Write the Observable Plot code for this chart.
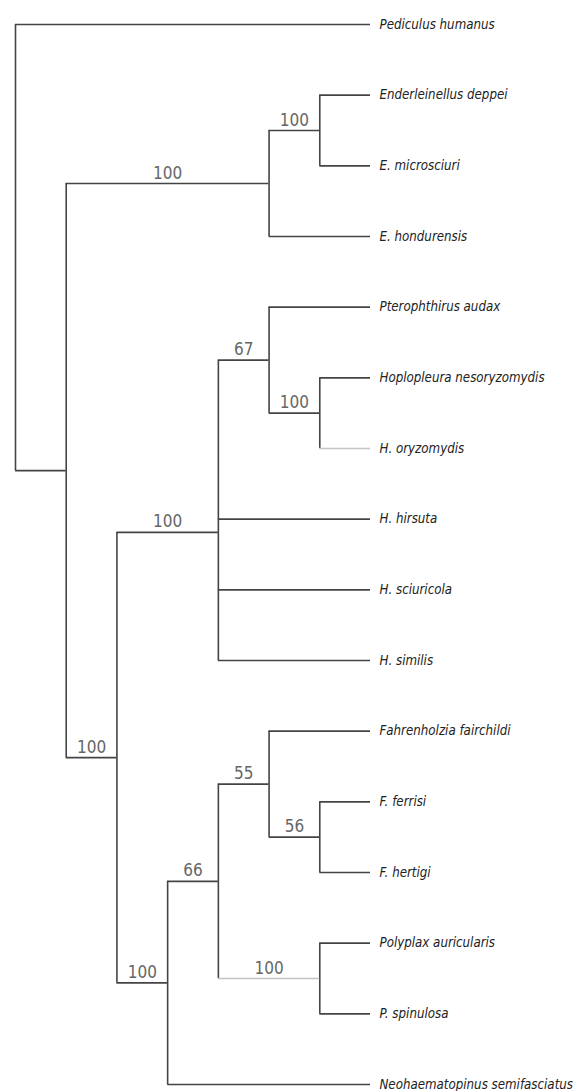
<!DOCTYPE html>
<html>
<head>
<meta charset="utf-8">
<script src="https://cdn.jsdelivr.net/npm/d3@7"></script>
<script src="https://cdn.jsdelivr.net/npm/@observablehq/plot@0.6"></script>
<style>
  html, body { margin: 0; padding: 0; background: #fff; }
  #chart svg { display: block; }
</style>
</head>
<body>
<div id="chart"></div>
<script>
// ---- Data ----
const leafNames = [
  "Pediculus humanus",
  "Enderleinellus deppei",
  "E. microsciuri",
  "E. hondurensis",
  "Pterophthirus audax",
  "Hoplopleura nesoryzomydis",
  "H. oryzomydis",
  "H. hirsuta",
  "H. sciuricola",
  "H. similis",
  "Fahrenholzia fairchildi",
  "F. ferrisi",
  "F. hertigi",
  "Polyplax auricularis",
  "P. spinulosa",
  "Neohaematopinus semifasciatus"
];
const leafParents = ["root","EnderIn","EnderIn","Ender","E","F","F","C","C","C","H","J","J","I","I","D"];

const cladeIds     = ["root","A","Ender","EnderIn","B","C","E","F","D","G","H","J","I"];
const cladeParents = [null,"root","A","Ender","A","B","C","E","B","D","G","H","G"];
const cladeSupport = [null,null,100,100,100,100,67,100,100,66,55,56,100];

// ---- Build tree ----
const rows = [
  ...cladeIds.map((id, i) => ({id, parent: cladeParents[i], support: cladeSupport[i], leaf: false, order: Infinity})),
  ...leafNames.map((name, i) => ({id: name, parent: leafParents[i], support: null, leaf: true, order: i}))
];
const root = d3.stratify().id(d => d.id).parentId(d => d.parent)(rows);
root.eachAfter(n => { n.minLeaf = n.children ? d3.min(n.children, c => c.minLeaf) : n.data.order; });
root.sort((a, b) => a.minLeaf - b.minLeaf);
d3.cluster().nodeSize([1, 1]).separation(() => 1)(root);

const nodes = root.descendants();
const faint = new Set(["H. oryzomydis", "I"]);

const horizontals = nodes.filter(n => n.parent).map(n => ({
  x1: n.parent.y, x2: n.y, y: n.x, faint: faint.has(n.data.id)
}));
const verticals = nodes.filter(n => n.children).map(n => ({
  x: n.y, y1: n.children[0].x, y2: n.children[n.children.length - 1].x
}));
const leaves = nodes.filter(n => !n.children).map(n => ({x: n.y, y: n.x, name: n.data.id}));
const supports = nodes.filter(n => n.parent && n.data.support != null).map(n => ({
  x: (n.parent.y + n.y) / 2, y: n.x, label: String(n.data.support)
}));

const fontFam = "'Liberation Sans Narrow', 'DejaVu Sans Condensed', 'Liberation Sans', sans-serif";

// ---- Plot ----
const chart = Plot.plot({
  width: 583,
  height: 1091,
  marginLeft: 15,
  marginRight: 213,
  marginTop: 24,
  marginBottom: 7,
  x: {domain: d3.extent(nodes, n => n.y), axis: null},
  y: {domain: d3.extent(leaves, d => d.y), reverse: true, axis: null},
  style: {background: "#fff"},
  marks: [
    Plot.ruleX(verticals, {x: "x", y1: "y1", y2: "y2", stroke: "#444", strokeWidth: 1.6}),
    Plot.ruleY(horizontals.filter(d => !d.faint), {x1: "x1", x2: "x2", y: "y", stroke: "#444", strokeWidth: 1.6}),
    Plot.ruleY(horizontals.filter(d => d.faint), {x1: "x1", x2: "x2", y: "y", stroke: "#c4c4c4", strokeWidth: 1.6}),
    Plot.text(leaves, {
      x: "x", y: "y", text: "name", textAnchor: "start", dx: 9,
      fontFamily: fontFam, fontStyle: "italic", fontSize: 13.2, fill: "#222"
    }),
    Plot.text(supports, {
      x: "x", y: "y", text: "label", textAnchor: "middle", lineAnchor: "bottom", dy: -5,
      fontFamily: fontFam, fontSize: 17, fill: "#666"
    })
  ]
});
document.getElementById("chart").appendChild(chart);
</script>
</body>
</html>
